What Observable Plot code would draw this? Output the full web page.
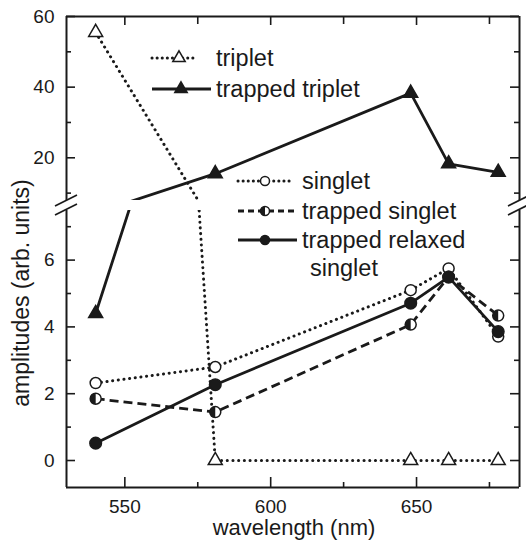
<!DOCTYPE html>
<html><head><meta charset="utf-8">
<script src="https://cdn.jsdelivr.net/npm/d3@7"></script>
<script src="https://cdn.jsdelivr.net/npm/@observablehq/plot@0.6"></script>
<style>
body{margin:0;background:#fff;}
#chart{position:relative;width:526px;height:543px;background:#fff;font-family:"Liberation Sans",Arial,sans-serif;}
#chart svg{position:absolute;left:0;top:0;}
</style></head><body><div id="chart"></div>
<script>
// ---- data ----
const wavelengths = [540, 581, 648, 661, 678];
const triplet = [55.5, 0, 0, 0, 0];
const trappedTriplet = [4.4, 15.5, 38.3, 18.3, 15.9];
const singlet = [2.32, 2.8, 5.1, 5.75, 3.71];
const trappedSinglet = [1.85, 1.45, 4.07, 5.5, 4.34];
const trappedRelaxedSinglet = [0.52, 2.27, 4.71, 5.49, 3.86];
const xTicks = [550, 600, 650];
const xMinor = [575, 625, 675];
const lowerTicks = [0, 2, 4, 6];
const lowerMinor = [1, 3, 5, 7];
const upperTicks = [20, 40, 60];
const upperMinor = [10, 30, 50];
const xLabel = "wavelength (nm)";
const yLabel = "amplitudes (arb. units)";

// ---- layout ----
const W = 526, H = 543, ML = 66, MR = 7;
const innerW = W - ML - MR;
const xDomain = [530, 685.3];
const upperDomain = [7.91, 60];
const lowerDomain = [-0.808, 7.485];
const upperH = 200, upperTop = 16;
const lowerTop = 210, lowerBottom = 56;
const innerHU = upperH - upperTop;
const innerHL = H - lowerTop - lowerBottom;
const ink = "#1a1a1a";
const font = '"Liberation Sans", Arial, sans-serif';

const rows = wavelengths.map((w, i) => ({
  w, triplet: triplet[i], trappedTriplet: trappedTriplet[i], singlet: singlet[i],
  trappedSinglet: trappedSinglet[i], trappedRelaxedSinglet: trappedRelaxedSinglet[i]
}));

const halfLeft = {draw(ctx, size) {
  const r = Math.sqrt(size / Math.PI);
  ctx.moveTo(0, -r); ctx.arc(0, 0, r, -Math.PI / 2, Math.PI / 2, true); ctx.closePath();
}};

const DOT = "0.1,5.6", DASH = "9,5";
const styles = {
  triplet: {dash: DOT, width: 3, symbol: "triangle", fill: "white", r: 5.2},
  trappedTriplet: {dash: null, width: 2.8, symbol: "triangle", fill: ink, r: 5.2},
  singlet: {dash: DOT, width: 3, symbol: "circle", fill: "white", r: 5.5},
  trappedSinglet: {dash: DASH, width: 2.8, symbol: "half", fill: "white", r: 5.5},
  trappedRelaxedSinglet: {dash: null, width: 2.8, symbol: "circle", fill: ink, r: 5.8}
};
const order = ["triplet", "trappedTriplet", "singlet", "trappedSinglet", "trappedRelaxedSinglet"];

function seriesMarks([lo, hi]) {
  const m = [];
  for (const k of order) {
    const s = styles[k];
    const o = {x: "w", y: k, stroke: ink, strokeWidth: s.width, clip: true,
      strokeLinecap: s.dash === DOT ? "round" : "butt"};
    if (s.dash) o.strokeDasharray = s.dash;
    m.push(Plot.line(rows, o));
  }
  for (const k of order) {
    const s = styles[k];
    const d = rows.filter(r => r[k] >= lo && r[k] <= hi);
    if (s.symbol === "half") {
      m.push(Plot.dot(d, {x: "w", y: k, r: s.r, fill: "white", stroke: ink, strokeWidth: 1.5}));
      m.push(Plot.dot(d, {x: "w", y: k, r: s.r, symbol: halfLeft, fill: ink}));
    } else {
      m.push(Plot.dot(d, {x: "w", y: k, r: s.r, symbol: s.symbol, fill: s.fill, stroke: ink, strokeWidth: 1.5}));
    }
  }
  return m;
}

const baseStyle = {fontFamily: font, fontSize: "19px", color: ink, background: "transparent"};

const lower = Plot.plot({
  width: W, height: H, marginTop: lowerTop, marginBottom: lowerBottom, marginLeft: ML, marginRight: MR,
  x: {domain: xDomain}, y: {domain: lowerDomain},
  style: baseStyle,
  marks: [
    ...seriesMarks(lowerDomain),
    Plot.ruleX(xDomain, {stroke: ink, strokeWidth: 2}),
    Plot.ruleY([lowerDomain[0]], {stroke: ink, strokeWidth: 2}),
    Plot.tickY(lowerTicks, {y: d => d, insetRight: innerW - 9, stroke: ink, strokeWidth: 1.6}),
    Plot.tickY(lowerMinor, {y: d => d, insetRight: innerW - 5, stroke: ink, strokeWidth: 1.6}),
    Plot.tickY(lowerTicks, {y: d => d, insetLeft: innerW - 9, stroke: ink, strokeWidth: 1.6}),
    Plot.tickY(lowerMinor, {y: d => d, insetLeft: innerW - 5, stroke: ink, strokeWidth: 1.6}),
    Plot.tickX(xTicks, {x: d => d, insetTop: innerHL - 10, stroke: ink, strokeWidth: 1.6}),
    Plot.tickX(xMinor, {x: d => d, insetTop: innerHL - 5, stroke: ink, strokeWidth: 1.6}),
    Plot.axisY({ticks: lowerTicks, tickSize: 0, tickPadding: 12, label: null}),
    Plot.axisX({ticks: xTicks, tickSize: 0, tickPadding: 12, label: null})
  ]
});

const upper = Plot.plot({
  width: W, height: upperH, marginTop: upperTop, marginBottom: 0, marginLeft: ML, marginRight: MR,
  x: {domain: xDomain, axis: null}, y: {domain: upperDomain},
  style: baseStyle,
  marks: [
    ...seriesMarks(upperDomain),
    Plot.ruleX(xDomain, {stroke: ink, strokeWidth: 2}),
    Plot.ruleY([upperDomain[1]], {stroke: ink, strokeWidth: 2}),
    Plot.tickY(upperTicks, {y: d => d, insetRight: innerW - 9, stroke: ink, strokeWidth: 1.6}),
    Plot.tickY(upperMinor, {y: d => d, insetRight: innerW - 5, stroke: ink, strokeWidth: 1.6}),
    Plot.tickY(upperTicks, {y: d => d, insetLeft: innerW - 9, stroke: ink, strokeWidth: 1.6}),
    Plot.tickY(upperMinor, {y: d => d, insetLeft: innerW - 5, stroke: ink, strokeWidth: 1.6}),
    Plot.tickX(xTicks, {x: d => d, insetBottom: innerHU - 9, stroke: ink, strokeWidth: 1.6}),
    Plot.tickX(xMinor, {x: d => d, insetBottom: innerHU - 8, stroke: ink, strokeWidth: 1.6}),
    Plot.axisY({ticks: upperTicks, tickSize: 0, tickPadding: 12, label: null})
  ]
});

const chart = document.getElementById("chart");
chart.appendChild(lower);
chart.appendChild(upper);

// ---- overlay: break marks, legend, titles ----
const ov = d3.select(chart).append("svg").attr("width", W).attr("height", H)
  .style("pointer-events", "none").style("font-family", font);

for (const x0 of [55, 508]) {
  for (const dy of [0, 9]) {
    ov.append("line").attr("x1", x0).attr("y1", 206 + dy).attr("x2", x0 + 22).attr("y2", 195 + dy)
      .attr("stroke", ink).attr("stroke-width", 1.6);
  }
}

function sampleLine(x1, x2, y, s) {
  const l = ov.append("line").attr("x1", x1).attr("x2", x2).attr("y1", y).attr("y2", y)
    .attr("stroke", ink).attr("stroke-width", s.width);
  if (s.dash === DOT) l.attr("stroke-dasharray", "0.1,5").attr("stroke-linecap", "round");
  else if (s.dash) l.attr("stroke-dasharray", "6,4");
}
function sampleMarker(x, y, s, r) {
  if (s.symbol === "half") {
    ov.append("circle").attr("cx", x).attr("cy", y).attr("r", r).attr("fill", "white").attr("stroke", ink).attr("stroke-width", 1.5);
    ov.append("path").attr("transform", `translate(${x},${y})`)
      .attr("d", `M0,${-r}A${r},${r} 0 0 0 0,${r}Z`).attr("fill", ink);
  } else if (s.symbol === "circle") {
    ov.append("circle").attr("cx", x).attr("cy", y).attr("r", r).attr("fill", s.fill).attr("stroke", ink).attr("stroke-width", 1.5);
  } else {
    ov.append("path").attr("transform", `translate(${x},${y})`)
      .attr("d", d3.symbol(d3.symbolTriangle, Math.PI * r * r)())
      .attr("fill", s.fill).attr("stroke", ink).attr("stroke-width", 1.5);
  }
}
function label(x, y, t) {
  ov.append("text").attr("x", x).attr("y", y).attr("dy", "0.35em").attr("font-size", 23.5)
    .attr("fill", ink).text(t);
}
const legendA = [
  {k: "triplet", y: 58, x1: 152, x2: 196, mx: 179, tx: 216, text: "triplet"},
  {k: "trappedTriplet", y: 89, x1: 152, x2: 211, mx: 181, tx: 216, text: "trapped triplet"}
];
for (const e of legendA) {
  const s = styles[e.k];
  sampleLine(e.x1, e.x2, e.y, s);
  sampleMarker(e.mx, e.y, s, 4.6);
  label(e.tx, e.y, e.text);
}
const legendB = [
  {k: "singlet", y: 181, x1: 238, x2: 291, text: "singlet"},
  {k: "trappedSinglet", y: 211, x1: 238, x2: 298, text: "trapped singlet"},
  {k: "trappedRelaxedSinglet", y: 240, x1: 238, x2: 297, text: "trapped relaxed"}
];
for (const e of legendB) {
  const s = styles[e.k];
  sampleLine(e.x1, e.x2, e.y, s);
  sampleMarker(265, e.y, s, 4.5);
  label(302, e.y, e.text);
}
label(310, 268, "singlet");

ov.append("text").attr("x", 294).attr("y", 535).attr("text-anchor", "middle")
  .attr("font-size", 22).attr("fill", ink).text(xLabel);
ov.append("text").attr("transform", "translate(29,293) rotate(-90)").attr("text-anchor", "middle")
  .attr("font-size", 23).attr("fill", ink).text(yLabel);
</script></body></html>
